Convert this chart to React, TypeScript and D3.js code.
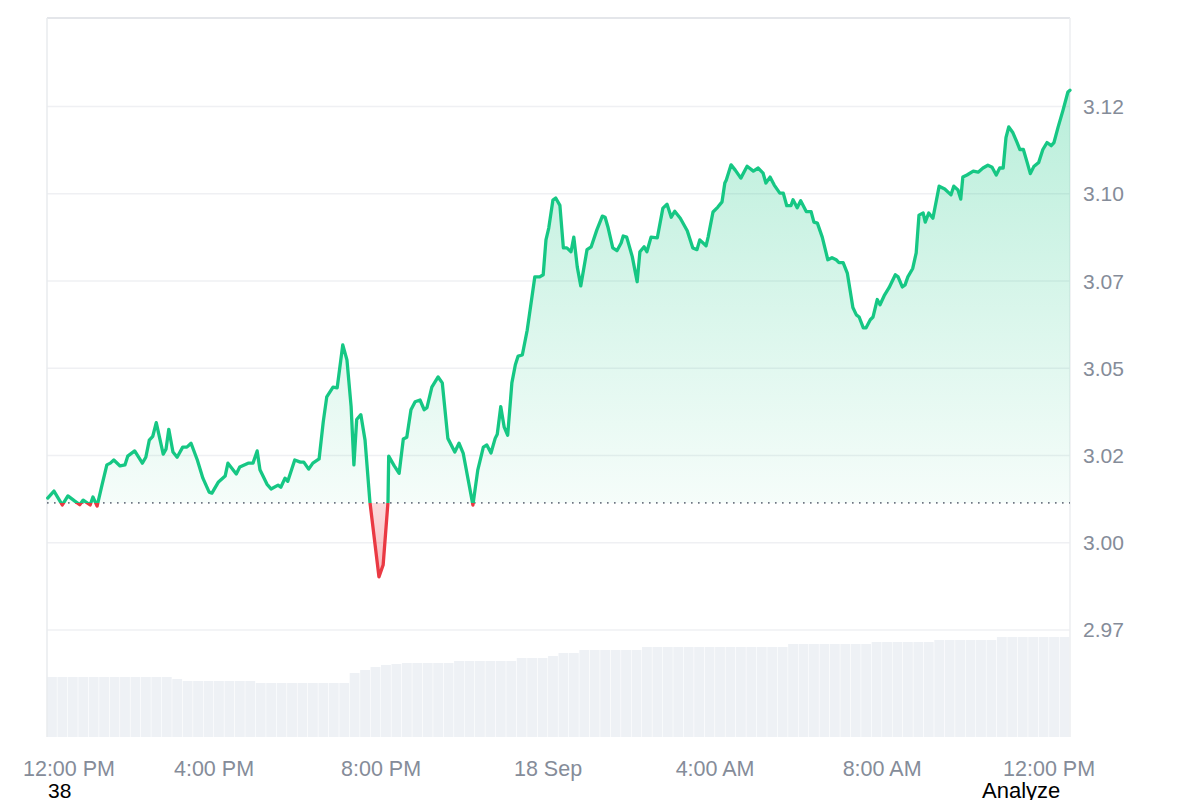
import * as d3 from 'd3'

// minutes after 12:00 PM, 17 Sep
const minutes = [
  1, 10, 22, 30, 40, 47, 52, 62, 66, 72, 79, 86, 91, 96, 105, 112, 116, 126, 137, 142,
  147, 152, 157, 167, 171, 175, 181, 187, 195, 201, 207, 216, 224, 233, 237, 246, 256, 260, 272, 277,
  289, 296, 302, 306, 316, 322, 332, 336, 342, 346, 356, 364, 369, 376, 382, 391, 397, 402, 411, 417,
  425, 431, 437, 441, 445, 451, 457, 464, 477, 483, 490, 491, 499, 506, 512, 517, 523, 529, 536, 542,
  546, 553, 562, 568, 576, 586, 592, 598, 612, 619, 627, 632, 638, 644, 647, 652, 657, 662, 668, 673,
  677, 683, 690, 701, 708, 713, 717, 721, 727, 731, 737, 742, 747, 753, 757, 762, 767, 776, 782, 790,
  798, 802, 806, 813, 819, 825, 828, 833, 841, 848, 852, 858, 862, 868, 877, 885, 891, 897, 902, 910,
  920, 928, 934, 938, 947, 950, 957, 964, 970, 974, 976, 983, 989, 997, 1006, 1015, 1022, 1029, 1033, 1039,
  1045, 1053, 1058, 1063, 1069, 1072, 1078, 1083, 1091, 1098, 1102, 1107, 1114, 1122, 1128, 1134, 1138, 1144, 1150, 1158,
  1163, 1167, 1173, 1177, 1183, 1187, 1193, 1197, 1203, 1210, 1219, 1223, 1229, 1233, 1237, 1244, 1249, 1253, 1259, 1262,
  1267, 1273, 1282, 1290, 1299, 1303, 1309, 1313, 1316, 1322, 1331, 1338, 1345, 1352, 1358, 1364, 1369, 1374, 1378, 1382,
  1388, 1394, 1398, 1403, 1408, 1413, 1418, 1425, 1431, 1437, 1443, 1447, 1453, 1460, 1467, 1470,
]

const prices = [
  3.0128, 3.0148, 3.0108, 3.0134, 3.0119, 3.0109, 3.0122, 3.0108, 3.0131, 3.0105, 3.0165, 3.0223, 3.0228, 3.0237, 3.022, 3.0223, 3.0248, 3.0263, 3.0228, 3.0245,
  3.0294, 3.0305, 3.0344, 3.0254, 3.0268, 3.0325, 3.026, 3.0245, 3.0274, 3.0274, 3.0285, 3.0237, 3.0185, 3.0145, 3.0142, 3.0173, 3.0191, 3.0228, 3.0197, 3.0217,
  3.0228, 3.0228, 3.0263, 3.0209, 3.0168, 3.0154, 3.0165, 3.0159, 3.0185, 3.0176, 3.0237, 3.0231, 3.0231, 3.0211, 3.0228, 3.024, 3.0347, 3.0418, 3.0446, 3.0444,
  3.0567, 3.0524, 3.039, 3.0223, 3.0353, 3.0367, 3.0294, 3.0117, 2.9902, 2.9936, 3.0117, 3.0248, 3.022, 3.0199, 3.0297, 3.0302, 3.0381, 3.0404, 3.0409, 3.0381,
  3.0387, 3.0446, 3.0475, 3.0458, 3.0299, 3.026, 3.0285, 3.0257, 3.0108, 3.0208, 3.0274, 3.028, 3.0257, 3.0299, 3.0311, 3.039, 3.0331, 3.0308, 3.0458, 3.051,
  3.0535, 3.0538, 3.0609, 3.0762, 3.0762, 3.0768, 3.0868, 3.0902, 3.0982, 3.0988, 3.0967, 3.0845, 3.0845, 3.0834, 3.0876, 3.079, 3.0736, 3.084, 3.0848, 3.0896,
  3.0936, 3.0933, 3.0905, 3.0845, 3.0837, 3.0859, 3.0879, 3.0876, 3.082, 3.0748, 3.0834, 3.0848, 3.0834, 3.0876, 3.0874, 3.0959, 3.097, 3.0933, 3.095, 3.093,
  3.0894, 3.0845, 3.084, 3.0868, 3.0851, 3.0876, 3.0948, 3.0962, 3.0977, 3.1031, 3.1039, 3.1083, 3.1068, 3.1045, 3.1079, 3.1065, 3.1074, 3.1059, 3.1031, 3.1048,
  3.1025, 3.1002, 3.1002, 3.0966, 3.0966, 3.0983, 3.096, 3.098, 3.0949, 3.0949, 3.0919, 3.0916, 3.0876, 3.0811, 3.0817, 3.0811, 3.0803, 3.0803, 3.0773, 3.0674,
  3.0653, 3.0647, 3.0616, 3.0616, 3.0639, 3.0647, 3.0697, 3.0682, 3.0708, 3.0731, 3.0768, 3.0762, 3.0733, 3.0739, 3.0762, 3.0786, 3.0831, 3.0939, 3.0945, 3.0919,
  3.0945, 3.093, 3.1022, 3.1014, 3.0997, 3.1022, 3.1011, 3.0985, 3.1048, 3.1054, 3.1065, 3.1062, 3.1074, 3.1082, 3.1076, 3.1054, 3.1074, 3.1074, 3.1161, 3.1192,
  3.1175, 3.1147, 3.1127, 3.1127, 3.1093, 3.1058, 3.1078, 3.109, 3.1127, 3.1147, 3.1138, 3.1147, 3.1192, 3.124, 3.1292, 3.1297,
]

const openPrice = 3.0114

// volume per 15-minute bar (millions)
const volumes = [
  43.8, 43.8, 43.8, 43.8, 43.8, 43.8, 43.8, 43.8, 43.8, 43.8, 43.8, 43.8, 42.3,
  40.9, 40.9, 40.9, 40.9, 40.9, 40.9, 40.9,
  39.4, 39.4, 39.4, 39.4, 39.4, 39.4, 39.4, 39.4, 39.4,
  46.7, 48.9, 51.1, 52.6, 53.3, 54.0, 54.0, 54.0, 54.0, 54.0,
  55.5, 55.5, 55.5, 55.5, 55.5, 55.5, 57.7, 57.7, 57.7, 59.1, 61.3, 61.3,
  63.5, 63.5, 63.5, 63.5, 63.5, 63.5,
  65.7, 65.7, 65.7, 65.7, 65.7, 65.7, 65.7, 65.7, 65.7, 65.7, 65.7, 65.7, 65.7, 65.7,
  67.9, 67.9, 67.9, 67.9, 67.9, 67.9, 67.9, 67.9,
  69.3, 69.3, 69.3, 69.3, 69.3, 69.3,
  70.8, 70.8, 70.8, 70.8, 70.8, 70.8,
  73.0, 73.0, 73.0, 73.0, 73.0, 73.0, 73.0,
]

const yTicks = [2.975, 3.0, 3.025, 3.05, 3.075, 3.1, 3.125]
const yTickLabels = ['2.97', '3.00', '3.02', '3.05', '3.07', '3.10', '3.12']
const xTickMinutes = [0, 240, 480, 720, 960, 1200, 1440]
const xTickLabels = ['12:00 PM', '4:00 PM', '8:00 PM', '18 Sep', '4:00 AM', '8:00 AM', '12:00 PM']

const GREEN = '#16c784'
const RED = '#ea3943'
const GREY = '#858c99'
const FONT = '"Liberation Sans", Arial, Helvetica, sans-serif'

export default function App() {
  const W = 1200
  const H = 800
  const left = 47
  const right = 1070
  const top = 18
  const bottom = 737

  const t0 = new Date(2024, 8, 17, 12, 0).getTime()
  const toDate = (m: number) => new Date(t0 + m * 60000)
  const data = minutes.map((m, i) => ({date: toDate(m), price: prices[i]}))

  const x = d3.scaleTime().domain([toDate(0), toDate(1470)]).range([left, right])
  const y = d3.scaleLinear().domain([2.9443, 3.1504]).range([bottom, top])
  const yVol = d3.scaleLinear().domain([0, 100]).range([bottom, 600])

  const yBase = y(openPrice)

  const line = d3
    .line<{date: Date; price: number}>()
    .x(d => x(d.date))
    .y(d => y(d.price))
  const area = d3
    .area<{date: Date; price: number}>()
    .x(d => x(d.date))
    .y0(yBase)
    .y1(d => y(d.price))

  const linePath = line(data) || ''
  const areaPath = area(data) || ''
  const yMax = y(d3.max(prices) || 0)
  const yMin = y(d3.min(prices) || 0)

  return (
    <div style={{position: 'absolute', left: 0, top: 0}}>
      <svg width={W} height={H} style={{display: 'block', fontFamily: FONT}}>
        <defs>
          <linearGradient id="gUp" gradientUnits="userSpaceOnUse" x1="0" x2="0" y1={yMax} y2={yBase}>
            <stop offset="0" stopColor={GREEN} stopOpacity={0.3} />
            <stop offset="1" stopColor={GREEN} stopOpacity={0.04} />
          </linearGradient>
          <linearGradient id="gDown" gradientUnits="userSpaceOnUse" x1="0" x2="0" y1={yBase} y2={yMin}>
            <stop offset="0" stopColor={RED} stopOpacity={0.18} />
            <stop offset="1" stopColor={RED} stopOpacity={0.35} />
          </linearGradient>
          <clipPath id="cUp">
            <rect x={left - 3} y={0} width={right - left + 6} height={yBase} />
          </clipPath>
          <clipPath id="cDown">
            <rect x={left - 3} y={yBase} width={right - left + 6} height={H - yBase} />
          </clipPath>
        </defs>

        {/* volume bars */}
        {volumes.map((v, i) => {
          const x0 = x(toDate(i * 15))
          const x1 = x(toDate((i + 1) * 15))
          return (
            <rect key={'v' + i} x={x0} y={yVol(v)} width={Math.max(0, x1 - x0 - 0.6)} height={bottom - yVol(v)} fill="#eef1f5" />
          )
        })}

        {/* grid */}
        {yTicks.map((t, i) => (
          <line key={'g' + i} x1={left} x2={right} y1={y(t)} y2={y(t)} stroke="#eff0f3" strokeWidth={1.5} />
        ))}

        {/* frame */}
        <line x1={left} x2={right} y1={top} y2={top} stroke="#e4e6ea" strokeWidth={2} />
        <line x1={left} x2={left} y1={top} y2={bottom} stroke="#e9ebee" strokeWidth={1.5} />
        <line x1={right} x2={right} y1={top} y2={bottom} stroke="#eceef1" strokeWidth={1.5} />

        {/* areas */}
        <path d={areaPath} fill="url(#gUp)" clipPath="url(#cUp)" />
        <path d={areaPath} fill="url(#gDown)" clipPath="url(#cDown)" />

        {/* open price baseline */}
        <line x1={left} x2={right} y1={yBase} y2={yBase} stroke="#6f7683" strokeWidth={1.6} strokeDasharray="1.6,5.4" />

        {/* price line */}
        <path d={linePath} fill="none" stroke={GREEN} strokeWidth={3.3} strokeLinejoin="round" strokeLinecap="round" clipPath="url(#cUp)" />
        <path d={linePath} fill="none" stroke={RED} strokeWidth={3.3} strokeLinejoin="round" strokeLinecap="round" clipPath="url(#cDown)" />

        {/* y axis labels */}
        {yTicks.map((t, i) => (
          <text key={'yl' + i} x={1083} y={y(t)} dy="0.36em" fontSize={21} fill={GREY}>
            {yTickLabels[i]}
          </text>
        ))}

        {/* x axis labels */}
        {xTickMinutes.map((m, i) => (
          <text key={'xl' + i} x={x(toDate(m)) + (i === 0 ? 22 : 0)} y={776} fontSize={21.5} fill={GREY} textAnchor="middle">
            {xTickLabels[i]}
          </text>
        ))}

        <text x={48} y={798} fontSize={21} fill="#000">
          38
        </text>
        <text x={982} y={798} fontSize={22} fill="#000">
          Analyze
        </text>
      </svg>
    </div>
  )
}
